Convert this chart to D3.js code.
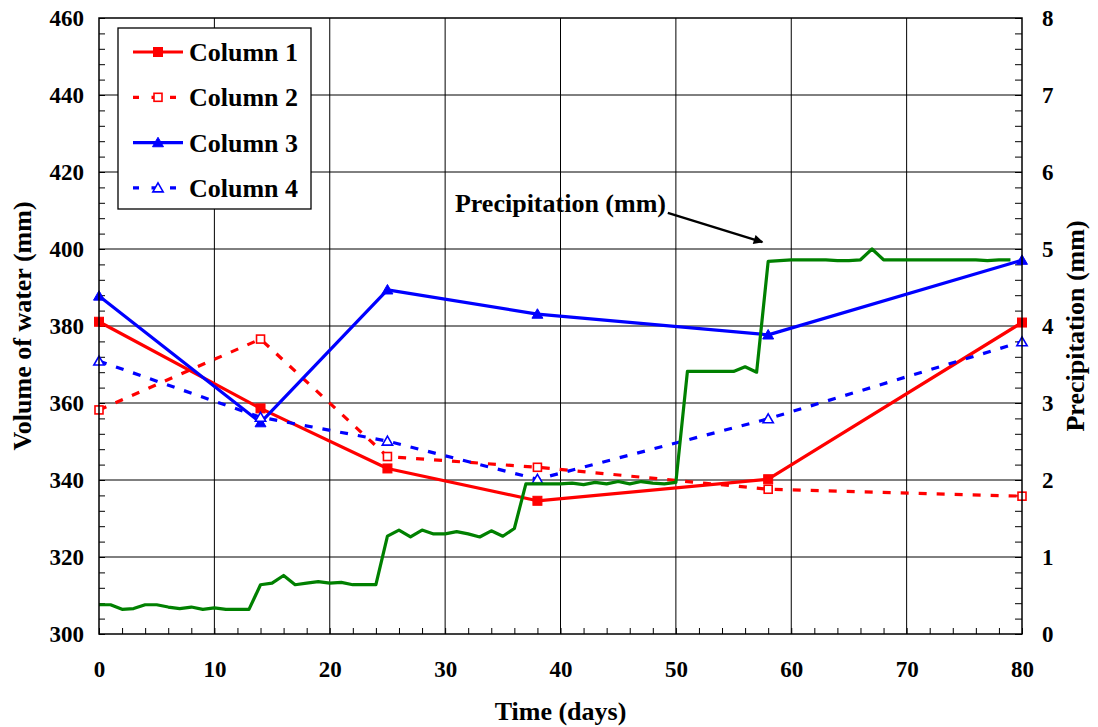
<!DOCTYPE html>
<html>
<head>
<meta charset="utf-8">
<script src="https://cdn.jsdelivr.net/npm/d3@7"></script>
<style>
  html, body { margin: 0; padding: 0; background: #fff; }
  svg { display: block; }
  text { font-family: "Liberation Serif", "Times New Roman", "DejaVu Serif", serif; font-weight: bold; fill: #000; }
</style>
</head>
<body>
<svg id="chart" width="1098" height="727"></svg>
<script>
// Sampling days for the four soil columns
const days = [0, 14, 25, 38, 58, 80];
// Volume of water (mm) per column
const column1 = [381.1, 358.6, 343.0, 334.6, 340.2, 380.9];
const column2 = [358.2, 376.6, 346.1, 343.3, 337.6, 335.8];
const column3 = [387.8, 354.9, 389.4, 383.1, 377.7, 397.1];
const column4 = [370.9, 356.3, 350.1, 340.2, 355.9, 375.9];
// Cumulative precipitation (mm), one value per day starting at day 0
const precipitation = [
  0.38, 0.38, 0.32, 0.33, 0.38, 0.38, 0.35, 0.33, 0.35, 0.32, 0.34, 0.32, 0.32, 0.32,
  0.64, 0.66, 0.76, 0.64, 0.66, 0.68, 0.66, 0.67, 0.64, 0.64, 0.64,
  1.27, 1.35, 1.26, 1.35, 1.30, 1.30, 1.33, 1.30, 1.26, 1.34, 1.27, 1.37,
  1.95, 1.95, 1.95, 1.95, 1.96, 1.94, 1.97, 1.95, 1.98, 1.95, 1.98, 1.96, 1.95, 1.97,
  3.41, 3.41, 3.41, 3.41, 3.41, 3.47, 3.40,
  4.84, 4.85, 4.86, 4.86, 4.86, 4.86, 4.85, 4.85, 4.86, 5.00,
  4.86, 4.86, 4.86, 4.86, 4.86, 4.86, 4.86, 4.86, 4.86, 4.85, 4.86, 4.86
];
// Axis ticks
const xTicks = [0, 10, 20, 30, 40, 50, 60, 70, 80];
const yTicks = [300, 320, 340, 360, 380, 400, 420, 440, 460];
const y2Ticks = [0, 1, 2, 3, 4, 5, 6, 7, 8];
const seriesNames = ["Column 1", "Column 2", "Column 3", "Column 4"];

const svg = d3.select("#chart");
const m = { left: 99, top: 18, right: 76, bottom: 93 };
const W = 1098, H = 727;
const x0 = m.left, x1 = W - m.right, y0 = H - m.bottom, y1 = m.top;

const x = d3.scaleLinear().domain([0, 80]).range([x0, x1]);
const y = d3.scaleLinear().domain([300, 460]).range([y0, y1]);
const y2 = d3.scaleLinear().domain([0, 8]).range([y0, y1]);

// Grid lines
const grid = svg.append("g").attr("stroke", "#000").attr("stroke-width", 1);
xTicks.slice(1, -1).forEach(t => grid.append("line")
  .attr("x1", x(t)).attr("x2", x(t)).attr("y1", y1).attr("y2", y0));
yTicks.slice(1, -1).forEach(t => grid.append("line")
  .attr("x1", x0).attr("x2", x1).attr("y1", y(t)).attr("y2", y(t)));

// Axes with inward minor ticks
const minorX = d3.range(0, 81, 2);
const minorY = d3.range(300, 461, 4);
const minorY2 = d3.range(0, 8.01, 0.2);

svg.append("g").attr("transform", `translate(0,${y0})`)
  .call(d3.axisBottom(x).tickValues(minorX).tickSize(-6).tickFormat(""))
  .call(g => g.select(".domain").remove())
  .call(g => g.selectAll("line").attr("stroke", "#000").attr("stroke-width", 1));
svg.append("g").attr("transform", `translate(${x0},0)`)
  .call(d3.axisLeft(y).tickValues(minorY).tickSize(-6).tickFormat(""))
  .call(g => g.select(".domain").remove())
  .call(g => g.selectAll("line").attr("stroke", "#000").attr("stroke-width", 1));
svg.append("g").attr("transform", `translate(${x1},0)`)
  .call(d3.axisRight(y2).tickValues(minorY2).tickSize(-7).tickFormat(""))
  .call(g => g.select(".domain").remove())
  .call(g => g.selectAll("line").attr("stroke", "#000").attr("stroke-width", 1));

// Tick labels
function styleLabels(g) {
  g.select(".domain").remove();
  g.attr("font-family", null).attr("font-size", null);
  g.selectAll("text").style("font-size", "23px");
}
svg.append("g").attr("transform", `translate(0,${y0})`)
  .call(d3.axisBottom(x).tickValues(xTicks).tickSize(0).tickPadding(27).tickFormat(d3.format("d")))
  .call(styleLabels);
svg.append("g").attr("transform", `translate(${x0},0)`)
  .call(d3.axisLeft(y).tickValues(yTicks).tickSize(0).tickPadding(15).tickFormat(d3.format("d")))
  .call(styleLabels);
svg.append("g").attr("transform", `translate(${x1},0)`)
  .call(d3.axisRight(y2).tickValues(y2Ticks).tickSize(0).tickPadding(20).tickFormat(d3.format("d")))
  .call(styleLabels);

// Axis titles
svg.append("text").attr("x", (x0 + x1) / 2).attr("y", 720)
  .attr("text-anchor", "middle").style("font-size", "26px").text("Time (days)");
svg.append("text").attr("transform", `translate(31,${(y0 + y1) / 2}) rotate(-90)`)
  .attr("text-anchor", "middle").style("font-size", "26px").text("Volume of water (mm)");
svg.append("text").attr("transform", `translate(1084,${(y0 + y1) / 2}) rotate(-90)`)
  .attr("text-anchor", "middle").style("font-size", "26px").text("Precipitation (mm)");

// Column series
const series = [
  { name: seriesNames[0], values: column1, color: "#ff0000", dash: null, marker: "square", filled: true },
  { name: seriesNames[1], values: column2, color: "#ff0000", dash: "8,10", marker: "square", filled: false },
  { name: seriesNames[2], values: column3, color: "#0000ff", dash: null, marker: "triangle", filled: true },
  { name: seriesNames[3], values: column4, color: "#0000ff", dash: "8,10", marker: "triangle", filled: false }
];

const line = d3.line().x(d => x(d[0])).y(d => y(d[1]));

function drawMarker(g, cx, cy, s) {
  if (s.marker === "square") {
    const size = s.filled ? 9 : 8;
    g.append("rect").attr("x", cx - size / 2).attr("y", cy - size / 2)
      .attr("width", size).attr("height", size)
      .attr("fill", s.filled ? s.color : "#fff")
      .attr("stroke", s.color).attr("stroke-width", s.filled ? 1 : 1.6);
  } else {
    g.append("path")
      .attr("d", d3.symbol().type(d3.symbolTriangle).size(s.filled ? 52 : 46)())
      .attr("transform", `translate(${cx},${cy + 1})`)
      .attr("fill", s.filled ? s.color : "#fff")
      .attr("stroke", s.color).attr("stroke-width", s.filled ? 1 : 1.6);
  }
}

const lines = svg.append("g");
series.forEach(s => {
  const pts = days.map((d, i) => [d, s.values[i]]);
  lines.append("path").datum(pts).attr("d", line)
    .attr("fill", "none").attr("stroke", s.color).attr("stroke-width", 3.2)
    .attr("stroke-dasharray", s.dash).attr("stroke-linejoin", "round");
});
series.forEach(s => {
  const g = lines.append("g");
  days.forEach((d, i) => drawMarker(g, x(d), y(s.values[i]), s));
});

// Precipitation on the secondary axis
const precipLine = d3.line().x(d => x(d[0])).y(d => y2(d[1]));
svg.append("path").datum(precipitation.map((p, i) => [i, p]))
  .attr("d", precipLine).attr("fill", "none")
  .attr("stroke", "#008000").attr("stroke-width", 3.2).attr("stroke-linejoin", "round");

// Annotation with arrow
const defs = svg.append("defs");
defs.append("marker").attr("id", "arrowHead")
  .attr("viewBox", "0 0 10 10").attr("refX", 9).attr("refY", 5)
  .attr("markerWidth", 5).attr("markerHeight", 4).attr("orient", "auto")
  .attr("markerUnits", "strokeWidth")
  .append("path").attr("d", "M0,0 L10,5 L0,10 z").attr("fill", "#000");
svg.append("text").attr("x", x(30.85)).attr("y", y(409.6))
  .style("font-size", "26px").text("Precipitation (mm)");
svg.append("line")
  .attr("x1", x(49.3)).attr("y1", y(409.4))
  .attr("x2", x(57.5)).attr("y2", y(401.8))
  .attr("stroke", "#000").attr("stroke-width", 2.4)
  .attr("marker-end", "url(#arrowHead)");

// Legend
const lg = svg.append("g").attr("transform", "translate(118,28)");
lg.append("rect").attr("width", 193).attr("height", 181)
  .attr("fill", "#fff").attr("stroke", "#000").attr("stroke-width", 1.3);
series.forEach((s, i) => {
  const cy = 24 + i * 45.3;
  const row = lg.append("g");
  row.append("line").attr("x1", 15).attr("x2", 65).attr("y1", cy).attr("y2", cy)
    .attr("stroke", s.color).attr("stroke-width", 3.2)
    .attr("stroke-dasharray", s.dash ? "6,12.5" : null);
  drawMarker(row, 40, cy, s);
  row.append("text").attr("x", 71).attr("y", cy + 9)
    .style("font-size", "26px").text(s.name);
});

// Plot frame
svg.append("rect").attr("x", x0).attr("y", y1)
  .attr("width", x1 - x0).attr("height", y0 - y1)
  .attr("fill", "none").attr("stroke", "#000").attr("stroke-width", 1.5);
</script>
</body>
</html>
